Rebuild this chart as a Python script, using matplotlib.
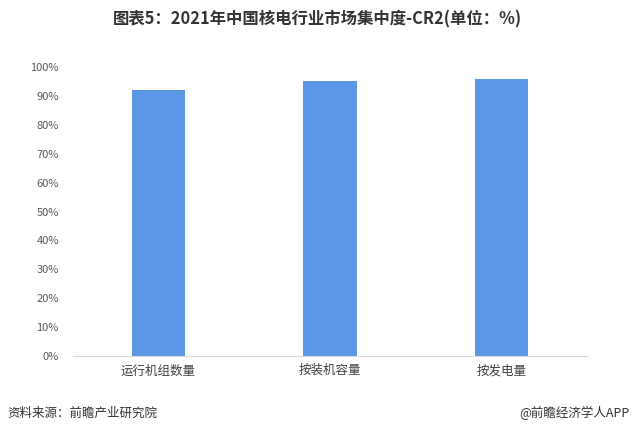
import matplotlib
matplotlib.use("Agg")
import matplotlib.pyplot as plt
from matplotlib.ticker import PercentFormatter

plt.rcParams['font.family'] = ['Noto Sans CJK SC', 'DejaVu Sans']

categories = ["运行机组数量", "按装机容量", "按发电量"]
values = [92, 95, 96]
yticks = [0, 10, 20, 30, 40, 50, 60, 70, 80, 90, 100]

fig = plt.figure(figsize=(6.35, 4.38), dpi=100)
ax = fig.add_axes([0.1146, 0.1872, 0.8102, 0.6598])

ax.bar(range(len(categories)), values, width=0.31, color="#5B97E5")
ax.set_xlim(-0.5, len(categories) - 0.5)
ax.set_ylim(0, 100)
ax.set_yticks(yticks)
ax.yaxis.set_major_formatter(PercentFormatter(decimals=0))
ax.set_xticks(range(len(categories)))
ax.set_xticklabels(categories, fontsize=9, color="#404040")
ax.tick_params(axis='y', length=0, labelsize=8, labelcolor="#595959", pad=10)
ax.tick_params(axis='x', length=0, pad=6)
for s in ["top", "right", "left"]:
    ax.spines[s].set_visible(False)
ax.spines["bottom"].set_color("#D9D9D9")

fig.text(0.5, 0.955, "图表5：2021年中国核电行业市场集中度-CR2(单位：%)", ha="center", va="center",
         fontsize=11.8, fontweight="bold", color="#333333")
fig.text(0.011, 0.057, "资料来源：前瞻产业研究院", ha="left", va="center", fontsize=9, color="#333333")
fig.text(0.992, 0.057, "@前瞻经济学人APP", ha="right", va="center", fontsize=9, color="#333333")

fig.savefig("out.png", dpi=100)
